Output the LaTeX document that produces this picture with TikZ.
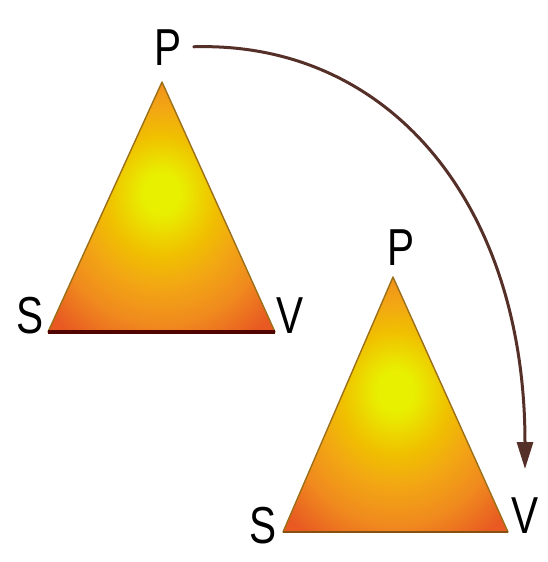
\documentclass[tikz,border=0pt]{standalone}
\usepackage{fontspec}
\setmainfont{Liberation Sans}
\newfontfamily\lblfont[FakeStretch=0.78]{Liberation Sans}
\usetikzlibrary{arrows.meta}
\definecolor{cY}{HTML}{E8F000}
\definecolor{cG}{HTML}{F0C000}
\definecolor{cH}{HTML}{F2A614}
\definecolor{cO}{HTML}{F08A1E}
\definecolor{cR}{HTML}{E85A22}
\definecolor{edgecol}{HTML}{9C7018}
\definecolor{basecol}{HTML}{520400}
\definecolor{arrcol}{HTML}{553028}
\pgfdeclareradialshading{trishade}{\pgfpoint{0bp}{3bp}}{%
  color(0bp)=(cY); color(4bp)=(cY); color(12bp)=(cG);
  color(18bp)=(cH); color(25bp)=(cO); color(33bp)=(cR); color(50bp)=(cR)}

\begin{document}
\begin{tikzpicture}[x=1pt,y=-1pt,line cap=round,line join=round,
  lbl/.style={anchor=base,inner sep=0pt,font=\lblfont\fontsize{52}{52}\selectfont}]

  \useasboundingbox (0,0) rectangle (547,562);

  % upper triangle
  \coordinate (top1) at (162,82);
  \coordinate (left1) at (48,332);
  \coordinate (right1) at (275,332);
  \fill[shading=trishade] (top1) -- (left1) -- (right1) -- cycle;
  \draw[edgecol,line width=1.4pt] (left1) -- (top1) -- (right1);
  \draw[basecol,line width=3.5pt,line cap=butt] (left1) -- (right1);

  % lower triangle
  \coordinate (top2) at (393,277);
  \coordinate (left2) at (283,532);
  \coordinate (right2) at (508,532);
  \fill[shading=trishade] (top2) -- (left2) -- (right2) -- cycle;
  \draw[edgecol,line width=1.4pt] (left2) -- (top2) -- (right2);
  \draw[edgecol!70!basecol,line width=2pt,line cap=butt] (left2) -- (right2);

  \node[lbl] (P1) at (168,65) {P};
  \node[lbl] (S1) at (30,333) {S};
  \node[lbl] (V1) at (290,333) {V};
  \node[lbl] (P2) at (401,265) {P};
  \node[lbl] (S2) at (263,543) {S};
  \node[lbl] (V2) at (525,533) {V};

  \draw[arrcol,line width=3pt,shorten <=12pt,shorten >=28pt,
        -{Triangle[length=27pt,width=16pt]}]
    (P1.east) .. controls +(210,-6) and +(0,-290) .. (V2.north);

\end{tikzpicture}
\end{document}
